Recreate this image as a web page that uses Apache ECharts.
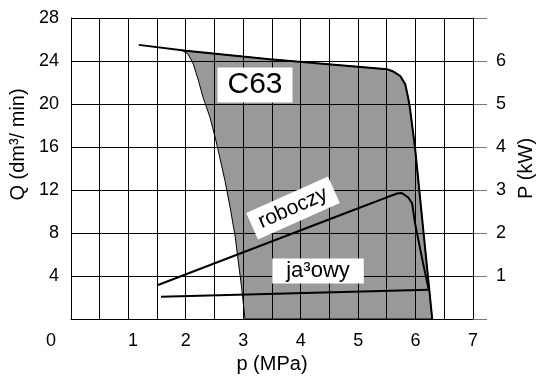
<!DOCTYPE html>
<html>
<head>
<meta charset="utf-8">
<script src="https://cdn.jsdelivr.net/npm/echarts@6/dist/echarts.min.js"></script>
<style>html,body{margin:0;padding:0;background:#fff}#c{width:539px;height:379px}</style>
</head>
<body>
<div id="c"></div>
<script>
// ---- data ----
const xTicks = [0, 1, 2, 3, 4, 5, 6, 7];
const xGrid = [0, 0.5, 1, 1.5, 2, 2.5, 3, 3.5, 4, 4.5, 5, 5.5, 6, 6.5, 7];
const leftTicks = [0, 4, 8, 12, 16, 20, 24, 28];
const rightTicks = [0, 1, 2, 3, 4, 5, 6, 7];

// flow characteristic Q(p), dm3/min
const flowPressure = [1.18, 2.0, 3.46, 5.50, 5.60, 5.73, 5.82, 5.87, 5.90, 5.99, 6.29];
const flowQ = [25.5, 24.95, 24.17, 23.24, 23.05, 22.62, 21.85, 20.61, 19.68, 15.97, 0];

// left boundary of the shaded C63 working region (bottom -> top)
const regionLeftPressure = [3.03, 2.97, 2.91, 2.86, 2.77, 2.68, 2.59, 2.51, 2.42, 2.30, 2.22, 2.13, 2.04, 1.93];
const regionLeftQ = [0, 2.99, 5.47, 7.63, 10.41, 12.89, 15.05, 16.9, 18.76, 20.61, 22.16, 23.71, 24.63, 25.0];

// power, kW — working ("roboczy")
const workPressure = [1.515, 4.91, 5.50, 5.68, 5.76, 5.87, 5.94, 5.99, 6.13, 6.23];
const workPower = [0.79, 2.53, 2.83, 2.92, 2.93, 2.83, 2.69, 2.23, 1.30, 0.68];

// power, kW — idle ("jałowy")
const idlePressure = [1.567, 6.23];
const idlePower = [0.517, 0.68];

const labels = { model: 'C63', work: 'roboczy', idle: 'ja³owy' };
// ---------------------------------------

const FONT = 'Liberation Sans, Arial, sans-serif';
const zip = (a, b) => a.map((v, i) => [v, b[i]]);

const polyP = flowPressure.slice(1).concat(regionLeftPressure);
const polyQ = flowQ.slice(1).concat(regionLeftQ);

const chart = echarts.init(document.getElementById('c'), null, { renderer: 'canvas' });

const TICK_FS = 18, NAME_FS = 20;
const Q_MIN = leftTicks[0], Q_MAX = leftTicks[leftTicks.length - 1];
const P_MIN = xTicks[0], P_MAX = xTicks[xTicks.length - 1];
const crisp = v => Math.round(v - 0.5) + 0.5;

// Sutherland–Hodgman clipping of a polygon (pixel coords) to a rectangle
function clipEdge(pts, inside, intersect) {
  const out = [];
  for (let k = 0; k < pts.length; k++) {
    const cur = pts[k], prev = pts[(k + pts.length - 1) % pts.length];
    const cIn = inside(cur), pIn = inside(prev);
    if (cIn) { if (!pIn) out.push(intersect(prev, cur)); out.push(cur); }
    else if (pIn) out.push(intersect(prev, cur));
  }
  return out;
}
function clipRect(pts, x0, y0, x1, y1) {
  const ix = (a, b, x) => [x, a[1] + (b[1] - a[1]) * (x - a[0]) / (b[0] - a[0])];
  const iy = (a, b, y) => [a[0] + (b[0] - a[0]) * (y - a[1]) / (b[1] - a[1]), y];
  let p = pts;
  p = clipEdge(p, q => q[0] >= x0, (a, b) => ix(a, b, x0)); if (p.length < 3) return [];
  p = clipEdge(p, q => q[0] <= x1, (a, b) => ix(a, b, x1)); if (p.length < 3) return [];
  p = clipEdge(p, q => q[1] >= y0, (a, b) => iy(a, b, y0)); if (p.length < 3) return [];
  p = clipEdge(p, q => q[1] <= y1, (a, b) => iy(a, b, y1)); if (p.length < 3) return [];
  return p;
}

const option = {
  backgroundColor: '#ffffff',
  animation: false,
  textStyle: { fontFamily: FONT },
  grid: { left: 71, right: 66, top: 18, bottom: 60, containLabel: false, outerBoundsMode: 'none' },
  xAxis: {
    type: 'value', min: P_MIN, max: P_MAX, interval: 0.5,
    name: 'p (MPa)', nameLocation: 'middle', nameGap: 34,
    nameTextStyle: { fontSize: NAME_FS, color: '#000', fontFamily: FONT },
    axisLine: { show: true, lineStyle: { color: '#000', width: 1 } },
    axisTick: { show: false },
    axisLabel: {
      margin: 13, fontSize: TICK_FS, color: '#000', fontFamily: FONT,
      showMinLabel: true, showMaxLabel: true,
      formatter: function (v) {
        if (xTicks.indexOf(v) < 0) return '';
        if (v === 0) return '{z|0}';
        if (v === 1) return '{o|1}';
        return String(v);
      },
      rich: {
        z: { fontSize: TICK_FS, color: '#000', fontFamily: FONT, padding: [0, 40, 0, 0] },
        o: { fontSize: TICK_FS, color: '#000', fontFamily: FONT, padding: [0, 0, 0, 9] }
      }
    },
    splitLine: { show: false }
  },
  yAxis: [
    {
      type: 'value', position: 'left', min: Q_MIN, max: Q_MAX, interval: 4,
      name: 'Q (dm³/ min)', nameLocation: 'middle', nameGap: 41,
      nameTextStyle: { fontSize: NAME_FS, color: '#000', fontFamily: FONT, padding: [0, 0, 0, 48] },
      axisLine: { show: true, lineStyle: { color: '#000', width: 1 } },
      axisTick: { show: false },
      axisLabel: {
        margin: 12, fontSize: TICK_FS, color: '#000', fontFamily: FONT,
        formatter: v => (v === 0 ? '' : String(v))
      },
      splitLine: { show: false }
    },
    {
      type: 'value', position: 'right', min: rightTicks[0], max: rightTicks[rightTicks.length - 1], interval: 1,
      name: 'P (kW)', nameLocation: 'middle', nameGap: 40,
      nameTextStyle: { fontSize: NAME_FS, color: '#000', fontFamily: FONT },
      axisLine: { show: true, lineStyle: { color: '#000', width: 1 } },
      axisTick: { show: true, inside: false, length: 14, lineStyle: { color: '#777', width: 1 } },
      axisLabel: {
        margin: 23, fontSize: TICK_FS, color: '#000', fontFamily: FONT,
        formatter: v => (v === 0 || v === 7 ? '' : String(v))
      },
      splitLine: { show: false }
    }
  ],
  series: [
    {
      // shaded C63 region, filled cell by cell so the grid lines stay visible
      type: 'custom', name: 'region', xAxisIndex: 0, yAxisIndex: 0, z: 1, silent: true,
      data: [[polyP[0], polyQ[0]]],
      renderItem: function (params, api) {
        const pts = polyP.map((p, i) => api.coord([p, polyQ[i]]));
        const gx = xGrid.map(v => crisp(api.coord([v, Q_MIN])[0]));
        const gy = leftTicks.map(v => crisp(api.coord([P_MIN, v])[1]));
        const children = [];
        for (let i = 0; i < gx.length - 1; i++) {
          for (let j = 0; j < gy.length - 1; j++) {
            const piece = clipRect(pts, gx[i] + 0.5, gy[j + 1] + 0.5, gx[i + 1] - 0.5, gy[j] - 0.5);
            if (piece.length >= 3) {
              children.push({ type: 'polygon', shape: { points: piece },
                style: { fill: '#999999', stroke: null, lineWidth: 0 } });
            }
          }
        }
        children.push({ type: 'polygon', z2: 5, shape: { points: pts },
          style: { fill: null, stroke: '#000', lineWidth: 1 } });
        return { type: 'group', children: children };
      }
    },
    {
      // grid lines, drawn through the axes' scales
      type: 'custom', name: 'grid', xAxisIndex: 0, yAxisIndex: 0, z: 2, silent: true,
      data: xGrid.map(v => [v, 0]).concat(leftTicks.map(v => [0, v])),
      renderItem: function (params, api) {
        const i = params.dataIndex;
        if (i < xGrid.length) {
          const v = xGrid[i];
          const a = api.coord([v, Q_MIN]), b = api.coord([v, Q_MAX]);
          const x = crisp(a[0]);
          return { type: 'line', shape: { x1: x, y1: b[1], x2: x, y2: a[1] },
            style: { stroke: '#000', lineWidth: 1, fill: null } };
        }
        const v = leftTicks[i - xGrid.length];
        const a = api.coord([P_MIN, v]), b = api.coord([P_MAX, v]);
        const y = crisp(a[1]);
        return { type: 'line', shape: { x1: a[0], y1: y, x2: b[0], y2: y },
          style: { stroke: '#000', lineWidth: 1, fill: null } };
      }
    },
    {
      type: 'line', name: 'Q', yAxisIndex: 0, data: zip(flowPressure, flowQ),
      showSymbol: false, symbol: 'none', z: 3, silent: true,
      lineStyle: { color: '#000', width: 2 }
    },
    {
      type: 'line', name: 'roboczy', yAxisIndex: 1, data: zip(workPressure, workPower),
      showSymbol: false, symbol: 'none', z: 3, silent: true,
      lineStyle: { color: '#000', width: 2 }
    },
    {
      type: 'line', name: 'jalowy', yAxisIndex: 1, data: zip(idlePressure, idlePower),
      showSymbol: false, symbol: 'none', z: 3, silent: true,
      lineStyle: { color: '#000', width: 2 }
    }
  ],
  graphic: [
    { type: 'text', z: 100, x: 255, y: 85,
      style: { text: labels.model, font: '30px ' + FONT, fill: '#000', align: 'center', verticalAlign: 'middle',
        backgroundColor: '#fff', padding: [3, 10, 2, 10], lineHeight: 30 } },
    { type: 'text', z: 100, x: 293, y: 208, rotation: 24 * Math.PI / 180,
      style: { text: labels.work, font: '21px ' + FONT, fill: '#000', align: 'center', verticalAlign: 'middle',
        backgroundColor: '#fff', padding: [4, 8, 4, 8], lineHeight: 21 } },
    { type: 'text', z: 100, x: 318, y: 271,
      style: { text: labels.idle, font: '22px ' + FONT, fill: '#000', align: 'center', verticalAlign: 'middle',
        backgroundColor: '#fff', padding: [2, 14, 1, 14], lineHeight: 22 } }
  ]
};
chart.setOption(option);
</script>
</body>
</html>
